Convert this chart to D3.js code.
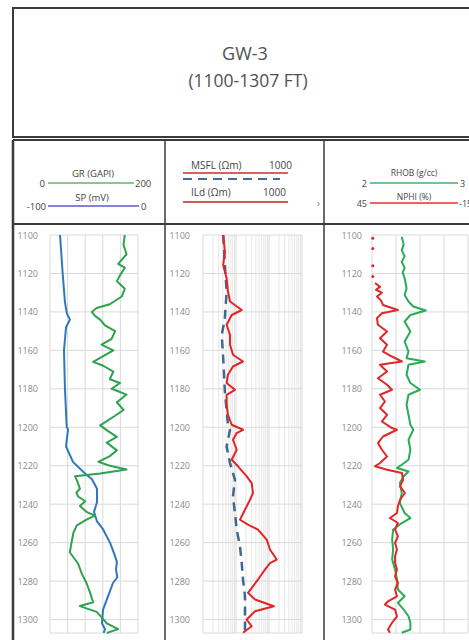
<!DOCTYPE html>
<html>
<head>
<meta charset="utf-8">
<script src="https://cdn.jsdelivr.net/npm/d3@7"></script>
<style>
body { margin: 0; background: #fff; }
text { font-family: "Open Sans", "DejaVu Sans", sans-serif; }
</style>
</head>
<body>
<div id="chart"></div>
<script>
// chart values
let wellName = "GW-3";
let wellRange = "(1100-1307 FT)";
let depthTicks = [1100, 1120, 1140, 1160, 1180, 1200, 1220, 1240, 1260, 1280, 1300];

let grDepth = [1100, 1105, 1110, 1115, 1117, 1121, 1124, 1128, 1132, 1136, 1138, 1140, 1142, 1144, 1147, 1150, 1154, 1157, 1160, 1162, 1165, 1166, 1168, 1171, 1175, 1177, 1180, 1181, 1183, 1187, 1191, 1194, 1199, 1202, 1205, 1208, 1212, 1215, 1218, 1220, 1222, 1224, 1225.5, 1228, 1232, 1234, 1236, 1238.5, 1241, 1244, 1246, 1248, 1251, 1255, 1260, 1265, 1271, 1276, 1281, 1286, 1291, 1293, 1296, 1298, 1302, 1305, 1307];
let grValue = [170, 167, 174, 155, 170, 159, 152, 170, 163, 136, 106, 95, 102, 114, 125, 148, 140, 117, 144, 129, 106, 98, 121, 144, 136, 159, 140, 152, 174, 152, 167, 148, 114, 132, 152, 129, 152, 136, 110, 136, 174, 114, 57, 62, 68, 60, 64, 80, 68, 83, 102, 83, 61, 53, 49, 45, 64, 72, 83, 91, 98, 68, 106, 114, 129, 155, 129];

let spDepth = [1100, 1120, 1135, 1141, 1144, 1148, 1160, 1180, 1200, 1201, 1210, 1218, 1224, 1227, 1232, 1239, 1244, 1249, 1253, 1260, 1267, 1270, 1274, 1278, 1281, 1288, 1295, 1302, 1305, 1307];
let spValue = [-88.6, -85.6, -83, -80.7, -77.3, -81.8, -84.1, -83, -81, -79.5, -81.8, -73.9, -60.2, -52.3, -46.6, -46.6, -50, -46.6, -39.8, -31.8, -26.1, -24, -25, -23.5, -28.4, -34.1, -39.8, -40.9, -37.5, -39];

let ildDepth = [1100, 1108.7, 1115.6, 1122.5, 1129.4, 1134.6, 1139, 1141.6, 1146.7, 1152, 1157.1, 1162.3, 1165.8, 1168.4, 1172.7, 1177, 1180.5, 1183.1, 1188.3, 1193.5, 1198.7, 1201.3, 1203, 1206.5, 1211.7, 1216.9, 1220.3, 1225.5, 1229, 1234.2, 1237.7, 1242.9, 1248.1, 1250.6, 1253.2, 1258.4, 1263.6, 1268.8, 1270.6, 1274, 1279.2, 1282.7, 1286.1, 1289.6, 1293.1, 1295.7, 1300, 1303.5, 1306.9];
let ildValue = [4.1, 4.6, 4.1, 5.2, 5.7, 6.6, 14.9, 7.4, 5.2, 6.6, 6.6, 8.1, 16.3, 8.1, 5.7, 5.2, 9.3, 5.2, 5.2, 5.7, 7.4, 16.3, 10.5, 8.1, 10.5, 7.4, 11.5, 21.1, 29.9, 32.7, 26.6, 18.7, 13.2, 23.1, 46.4, 85, 107, 171, 107, 75.6, 46.4, 32.7, 23.1, 37.7, 140, 37.7, 21.1, 29.9, 16.3];

let msflDepth = [1100, 1115.6, 1129.4, 1143.3, 1152, 1164.1, 1181.4, 1198.7, 1201.3, 1210, 1218.6, 1227.3, 1236, 1244.6, 1253.2, 1261.9, 1270.6, 1279.2, 1287.9, 1296.5, 1307];
let msflValue = [4.1, 4.6, 5.2, 4.6, 3.7, 4.1, 4.6, 5.7, 6.6, 5.2, 6.6, 9.3, 8.1, 9.3, 10.5, 13.2, 14.9, 16.3, 18.7, 18.7, 18.7];

let rhobDepth = [1100.9, 1105, 1108, 1111, 1114, 1117, 1119.5, 1122.5, 1127.7, 1131.2, 1134.6, 1137.2, 1139.3, 1141.6, 1145, 1150.2, 1155.4, 1160.6, 1164.1, 1165.8, 1167.5, 1172.7, 1177, 1180.5, 1183.1, 1188.3, 1193.5, 1198.7, 1201.3, 1206.5, 1211.7, 1216.9, 1219.5, 1221.2, 1223, 1225.5, 1229, 1234.2, 1239.4, 1244.6, 1247.2, 1249.8, 1253.2, 1258.4, 1263.6, 1268.8, 1274, 1279.2, 1284.4, 1287.9, 1291.3, 1294.8, 1298.3, 1301.7, 1305.2, 1306.9];
let rhobValue = [2.31, 2.33, 2.31, 2.34, 2.31, 2.34, 2.32, 2.34, 2.36, 2.34, 2.38, 2.43, 2.56, 2.40, 2.34, 2.40, 2.34, 2.38, 2.36, 2.55, 2.38, 2.36, 2.40, 2.50, 2.38, 2.36, 2.38, 2.40, 2.43, 2.38, 2.40, 2.38, 2.31, 2.26, 2.38, 2.33, 2.29, 2.31, 2.29, 2.34, 2.40, 2.31, 2.22, 2.21, 2.22, 2.21, 2.24, 2.26, 2.27, 2.34, 2.27, 2.33, 2.38, 2.40, 2.40, 2.31];

let nphiDepth = [1125, 1127, 1128.5, 1130, 1132, 1134, 1136.4, 1139, 1140.7, 1143.3, 1146.7, 1150.2, 1153.7, 1157.1, 1160.6, 1163.2, 1165.8, 1167.5, 1171, 1174.5, 1177.9, 1180.5, 1183.1, 1186.6, 1190, 1193.5, 1197, 1200.4, 1201.3, 1204.8, 1208.2, 1211.7, 1215.2, 1218.6, 1220.3, 1222.1, 1223.8, 1227.3, 1230.7, 1234.2, 1237.7, 1241.1, 1244.6, 1247.2, 1249.8, 1253.2, 1256.7, 1260.2, 1263.6, 1267.1, 1270.6, 1274, 1277.5, 1281, 1284.4, 1287.9, 1290.5, 1292.2, 1294.8, 1298.3, 1301.7, 1305.2, 1306.9];
let nphiValue = [43.1, 40, 42.5, 38.8, 41.9, 39.4, 38.1, 28.8, 38.8, 41.9, 41.3, 35.6, 40, 35.6, 38.1, 32.5, 26.3, 40, 35.6, 41.3, 35.6, 32.5, 40, 36.9, 40, 35.6, 38.8, 32.5, 29.4, 38.1, 41.3, 38.8, 35.6, 40, 43.1, 35.6, 26.3, 25.6, 27.5, 24.4, 27.5, 28.8, 29.4, 33.8, 28.8, 30.6, 28.8, 30.6, 29.4, 30.6, 30.6, 29.4, 30.6, 28.8, 30.6, 29.4, 35, 36.9, 30.6, 29.4, 32.5, 35, 33.8];
let nphiDotDepth = [1101.7, 1107, 1116, 1121.6];
let nphiDotValue = [44.5, 44.5, 44.5, 44.5];

let svg;
let yScale;

//
//	initFrame
//
initFrame = function () {
	svg = d3
		.select("#chart")
		.append("svg")
		.attr("width", 469)
		.attr("height", 640);

	let frame = svg.append("g").attr("stroke", "#3a3a3a").attr("fill", "none");
	frame.append("rect").attr("x", 13).attr("y", 8).attr("width", 480).attr("height", 129).attr("stroke-width", 2);
	frame.append("line").attr("x1", 13).attr("x2", 490).attr("y1", 140).attr("y2", 140).attr("stroke-width", 2);
	frame.append("line").attr("x1", 13).attr("x2", 490).attr("y1", 224).attr("y2", 224).attr("stroke-width", 2);
	frame.append("line").attr("x1", 13).attr("x2", 13).attr("y1", 140).attr("y2", 640).attr("stroke-width", 2.5);
	frame.append("line").attr("x1", 165).attr("x2", 165).attr("y1", 140).attr("y2", 640).attr("stroke-width", 1.5);
	frame.append("line").attr("x1", 324).attr("x2", 324).attr("y1", 140).attr("y2", 640).attr("stroke-width", 1.5);

	svg.append("text").attr("x", 245).attr("y", 60).attr("text-anchor", "middle")
		.attr("font-size", 18).attr("fill", "#505050").text(wellName);
	svg.append("text").attr("x", 248).attr("y", 87).attr("text-anchor", "middle")
		.attr("font-size", 17.5).attr("fill", "#505050").text(wellRange);
};

//
//	legendText
//
legendText = function (x, y, str, anchor, size) {
	svg.append("text").attr("x", x).attr("y", y).attr("text-anchor", anchor || "middle")
		.attr("font-size", size || 9).attr("fill", "#444").text(str);
};

legendLine = function (x1, x2, y, color, dash) {
	svg.append("line").attr("x1", x1).attr("x2", x2).attr("y1", y).attr("y2", y)
		.attr("stroke", color).attr("stroke-width", dash ? 2 : 1.5)
		.attr("stroke-dasharray", dash || null);
};

//
//	initHeaders
//
initHeaders = function () {
	// track 1
	legendText(93, 177, "GR (GAPI)", "middle", 9.5);
	legendLine(48, 134, 183, "#5cb85c");
	legendText(45, 186.5, "0", "end", 9.5);
	legendText(135, 186.5, "200", "start", 9.5);
	legendText(92, 201, "SP (mV)", "middle", 9.5);
	legendLine(48, 139, 206, "#5b5bc8");
	legendText(46, 209.5, "-100", "end", 9.5);
	legendText(141, 209.5, "0", "start", 9.5);

	// track 2
	legendText(191, 169, "MSFL  (\u03A9m)", "start", 10);
	legendText(269, 169, "1000", "start", 10);
	legendLine(183, 288, 173, "#d42a2a");
	legendLine(183, 280, 179, "#3d6e9e", "9,6");
	legendText(191, 196, "ILd     (\u03A9m)", "start", 10);
	legendText(263, 196, "1000", "start", 10);
	legendLine(183, 288, 202, "#c41e1e");
	svg.append("text").attr("x", 317).attr("y", 207).attr("font-size", 10).attr("fill", "#888").text("\u203A");

	// track 3
	legendText(414, 176, "RHOB (g/cc)", "middle", 8.5);
	legendLine(370, 458, 183, "#3cb371");
	legendText(367, 186.5, "2", "end", 9);
	legendText(460, 186.5, "3", "start", 9);
	legendText(414, 200, "NPHI (%)", "middle", 8.5);
	legendLine(370, 458, 203, "#e83030");
	legendText(367, 206.5, "45", "end", 9);
	legendText(459, 206.5, "-15", "start", 9);
};

//
//	drawTrack
//
drawTrack = function (xScale, xTicks, labelX, minorTicks) {
	let g = svg.append("g");
	let x0 = xScale.range()[0], x1 = xScale.range()[1];

	if (minorTicks) {
		g.selectAll(".minor").data(minorTicks).enter().append("line")
			.attr("x1", (d) => xScale(d)).attr("x2", (d) => xScale(d))
			.attr("y1", yScale(1100)).attr("y2", yScale(1307))
			.attr("stroke", "#e6e6e6").attr("stroke-width", 1);
	}
	g.selectAll(".vgrid").data(xTicks).enter().append("line")
		.attr("x1", (d) => xScale(d)).attr("x2", (d) => xScale(d))
		.attr("y1", yScale(1100)).attr("y2", yScale(1307))
		.attr("stroke", "#dadada").attr("stroke-width", 1);
	g.selectAll(".hgrid").data(depthTicks).enter().append("line")
		.attr("x1", x0).attr("x2", x1)
		.attr("y1", (d) => yScale(d)).attr("y2", (d) => yScale(d))
		.attr("stroke", "#dadada").attr("stroke-width", 1);
	g.append("line").attr("x1", x0).attr("x2", x1)
		.attr("y1", yScale(1307)).attr("y2", yScale(1307))
		.attr("stroke", "#dadada");

	g.selectAll(".dlabel").data(depthTicks).enter().append("text")
		.attr("x", labelX).attr("y", (d) => yScale(d) + 3.5)
		.attr("text-anchor", "end").attr("font-size", 9).attr("fill", "#8a8a8a")
		.text((d) => d);
};

//
//	drawCurve
//
drawCurve = function (xScale, depths, values, color, width, dash) {
	let pts = depths.map((d, i) => [xScale(values[i]), yScale(d)]);
	svg.append("path").datum(pts)
		.attr("d", d3.line())
		.attr("fill", "none").attr("stroke", color).attr("stroke-width", width)
		.attr("stroke-linejoin", "round")
		.attr("stroke-dasharray", dash || null);
};

//
//	initTracks
//
initTracks = function () {
	yScale = d3.scaleLinear().domain([1100, 1307]).range([235, 633]);

	// track 1 : GR / SP
	let grScale = d3.scaleLinear().domain([0, 200]).range([50, 138]);
	let spScale = d3.scaleLinear().domain([-100, 0]).range([50, 138]);
	drawTrack(grScale, [0, 40, 80, 120, 160, 200], 38);
	drawCurve(spScale, spDepth, spValue, "#2f78c0", 2);
	drawCurve(grScale, grDepth, grValue, "#2ea24e", 2);

	// track 2 : resistivity, log
	let resScale = d3.scaleLog().domain([1, 1000]).range([203, 302]);
	let minors = [];
	[1, 10, 100].forEach((dec) => {
		for (let m = 2; m < 10; m++) minors.push(dec * m);
	});
	drawTrack(resScale, [1, 10, 100, 1000], 190, minors);
	drawCurve(resScale, msflDepth, msflValue, "#3d6890", 2.5, "9,6");
	drawCurve(resScale, ildDepth, ildValue, "#e42424", 2);

	// track 3 : RHOB / NPHI
	let rhobScale = d3.scaleLinear().domain([2, 3]).range([372, 468]);
	let nphiScale = d3.scaleLinear().domain([45, -15]).range([372, 468]);
	drawTrack(rhobScale, [2, 2.25, 2.5, 2.75, 3], 362);
	drawCurve(rhobScale, rhobDepth, rhobValue, "#2bab55", 2);
	drawCurve(nphiScale, nphiDepth, nphiValue, "#e02828", 2);
	svg.selectAll(".nphidot").data(nphiDotDepth).enter().append("circle")
		.attr("cx", (d, i) => nphiScale(nphiDotValue[i]))
		.attr("cy", (d) => yScale(d))
		.attr("r", 1.5).attr("fill", "#e02828");
};

initFrame();
initHeaders();
initTracks();
</script>
</body>
</html>
